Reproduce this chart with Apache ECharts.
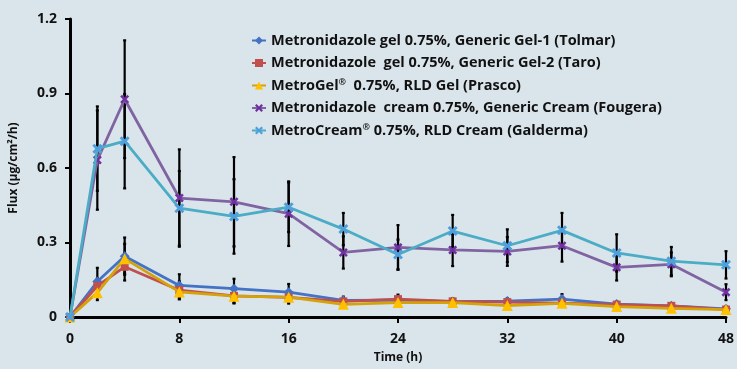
<!DOCTYPE html>
<html>
<head>
<meta charset="utf-8">
<script src="https://cdn.jsdelivr.net/npm/echarts@6/dist/echarts.min.js"></script>
<style>
html,body{margin:0;padding:0;background:#dae5eb;}
#chart{width:737px;height:369px;}
</style>
</head>
<body>
<div id="chart"></div>
<script>
// ---- data ----
var times = [0, 2, 4, 8, 12, 16, 20, 24, 28, 32, 36, 40, 44, 48];
var seriesNames = [
  "Metronidazole gel 0.75%, Generic Gel-1 (Tolmar)",
  "Metronidazole  gel 0.75%, Generic Gel-2 (Taro)",
  "MetroGel®  0.75%, RLD Gel (Prasco)",
  "Metronidazole  cream 0.75%, Generic Cream (Fougera)",
  "MetroCream® 0.75%, RLD Cream (Galderma)"
];
var gel1 = [0, 0.143, 0.245, 0.127, 0.114, 0.100, 0.067, 0.068, 0.062, 0.064, 0.072, 0.052, 0.045, 0.033];
var gel2 = [0, 0.125, 0.202, 0.108, 0.085, 0.079, 0.063, 0.072, 0.063, 0.060, 0.056, 0.050, 0.045, 0.030];
var metroGel = [0, 0.098, 0.235, 0.101, 0.084, 0.080, 0.051, 0.058, 0.058, 0.046, 0.055, 0.042, 0.035, 0.030];
var cream = [0, 0.632, 0.877, 0.479, 0.464, 0.416, 0.260, 0.280, 0.270, 0.264, 0.287, 0.200, 0.212, 0.100];
var metroCream = [0, 0.678, 0.708, 0.438, 0.405, 0.442, 0.354, 0.252, 0.346, 0.287, 0.349, 0.258, 0.225, 0.210];

var gel1Err = [0, 0.055, 0.075, 0.045, 0.040, 0.033, 0.015, 0.015, 0.012, 0.012, 0.020, 0.010, 0.010, 0.008];
var gel2Err = [0, 0.030, 0.055, 0.035, 0.030, 0.025, 0.012, 0.018, 0.012, 0.012, 0.010, 0.010, 0.010, 0.008];
var metroGelErr = [0, 0.030, 0.060, 0.030, 0.028, 0.020, 0.010, 0.010, 0.010, 0.010, 0.010, 0.008, 0.008, 0.006];
var creamErr = [0, 0.200, 0.237, 0.196, 0.180, 0.130, 0.065, 0.090, 0.065, 0.058, 0.064, 0.053, 0.048, 0.032];
var metroCreamErr = [0, 0.170, 0.190, 0.150, 0.150, 0.100, 0.065, 0.060, 0.065, 0.066, 0.070, 0.075, 0.057, 0.055];

var yTicks = [0, 0.3, 0.6, 0.9, 1.2];
var xTicks = [0, 8, 16, 24, 32, 40, 48];

// ---- styles ----
var lineColors = ['#4472c4', '#c0504d', '#d4a20a', '#8064a2', '#4bacc6'];
var markColors = ['#4472c4', '#c0504d', '#ffc000', '#7030a0', '#4f9fdc'];
var xPath = 'path://M2,0 L5,3 L8,0 L10,2 L7,5 L10,8 L8,10 L5,7 L2,10 L0,8 L3,5 L0,2 Z';
var symbols = ['diamond', 'rect', 'triangle', xPath, xPath];
var symSizes = [10, 8, 11, 9, 10];
var values = [gel1, gel2, metroGel, cream, metroCream];
var errs = [gel1Err, gel2Err, metroGelErr, creamErr, metroCreamErr];

function pairs(v){ return times.map(function(t,i){ return [t, v[i]]; }); }
function errPairs(v,e){ return times.map(function(t,i){ return [t, v[i]-e[i], v[i]+e[i]]; }); }

var FONT = 'Open Sans';
var series = [];
for (var k = 0; k < 5; k++) {
  series.push({
    type: 'custom',
    name: 'err' + k,
    data: errPairs(values[k], errs[k]),
    z: 1,
    silent: true,
    encode: {x: 0, y: [1, 2]},
    renderItem: function (params, api) {
      var x = api.value(0);
      var lo = api.coord([x, api.value(1)]);
      var hi = api.coord([x, api.value(2)]);
      var st = {stroke: '#000', lineWidth: 2.2};
      return {type: 'group', children: [
        {type: 'line', shape: {x1: lo[0], y1: lo[1], x2: hi[0], y2: hi[1]}, style: st},
        {type: 'line', shape: {x1: lo[0]-1.5, y1: lo[1], x2: lo[0]+1.5, y2: lo[1]}, style: st},
        {type: 'line', shape: {x1: hi[0]-1.5, y1: hi[1], x2: hi[0]+1.5, y2: hi[1]}, style: st}
      ]};
    }
  });
}
for (var k = 0; k < 5; k++) {
  series.push({
    type: 'line',
    name: seriesNames[k],
    data: pairs(values[k]),
    z: 3 + k,
    symbol: symbols[k],
    symbolSize: symSizes[k],
    showAllSymbol: true,
    lineStyle: {color: lineColors[k], width: 2.8},
    itemStyle: {color: markColors[k], borderWidth: 0},
    emphasis: {disabled: true}
  });
}

var chart = echarts.init(document.getElementById('chart'), null, {renderer: 'canvas'});
chart.setOption({
  animation: false,
  backgroundColor: '#dae5eb',
  grid: {left: 70, right: 5, top: 19, bottom: 45, containLabel: false},
  legend: {
    data: seriesNames,
    orient: 'vertical',
    left: 246,
    top: 28,
    itemGap: 7.5,
    itemWidth: 14,
    itemHeight: 10,
    textStyle: {fontFamily: FONT, fontWeight: 'bold', fontSize: 14.5, color: '#111',
      rich: {sup: {fontFamily: FONT, fontWeight: 'bold', fontSize: 9, verticalAlign: 'top', padding: [0,0,6,0]}}},
    formatter: function (n) { return n.replace('®', '{sup|®}'); }
  },
  xAxis: {
    type: 'value', min: 0, max: 48, interval: 8,
    name: 'Time (h)', nameLocation: 'middle', nameGap: 35,
    nameTextStyle: {fontFamily: FONT, fontWeight: 'bold', fontSize: 12, color: '#111'},
    axisLine: {lineStyle: {color: '#000', width: 3}},
    axisTick: {show: true, length: 6, lineStyle: {color: '#000', width: 2}},
    axisLabel: {fontFamily: FONT, fontWeight: 'bold', fontSize: 14, color: '#111', margin: 15,
      formatter: function(v){ return xTicks.indexOf(v) >= 0 ? String(v) : ''; }},
    splitLine: {show: false}
  },
  yAxis: {
    type: 'value', min: 0, max: 1.2, interval: 0.3,
    name: 'Flux (µg/cm²/h)', nameLocation: 'middle', nameGap: 50, nameRotate: 90,
    nameTextStyle: {fontFamily: FONT, fontWeight: 'bold', fontSize: 12, color: '#111'},
    axisLine: {show: true, lineStyle: {color: '#000', width: 3}},
    axisTick: {show: true, length: 5, lineStyle: {color: '#000', width: 2}},
    axisLabel: {fontFamily: FONT, fontWeight: 'bold', fontSize: 14, color: '#111', margin: 13,
      formatter: function(v){ var i = yTicks.indexOf(Math.round(v*10)/10); return i >= 0 ? String(yTicks[i]) : ''; }},
    splitLine: {show: false}
  },
  series: series
});
</script>
</body>
</html>
